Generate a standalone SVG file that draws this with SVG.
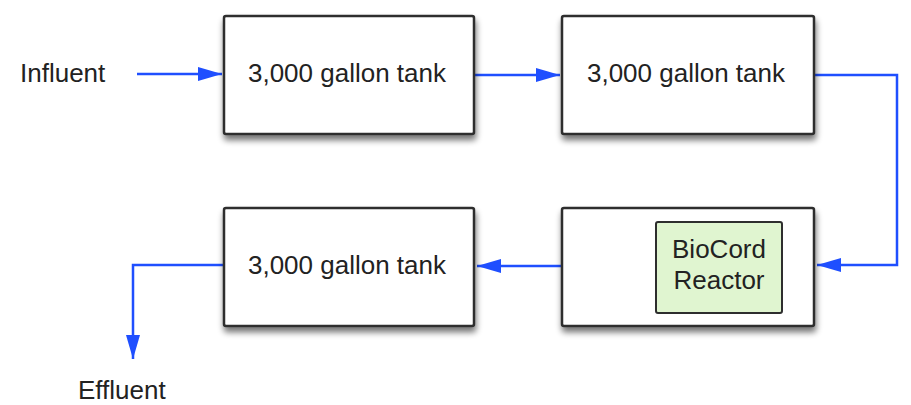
<svg xmlns="http://www.w3.org/2000/svg" width="911" height="405" viewBox="0 0 911 405">
<style>
  .box { fill: #ffffff; stroke: #2e2e2e; stroke-width: 2.5; filter: url(#shadow); }
  .inner { fill: #e0f5d0; stroke: #2e2e2e; stroke-width: 2; }
  .lbl { font-family: "Liberation Sans", Arial, sans-serif; font-size: 26px; fill: #222222; }
  .c { text-anchor: middle; }
  .wire { fill: none; stroke: #1f4fff; stroke-width: 2.5; }
</style>
<defs>
  <filter id="shadow" x="-10%" y="-10%" width="125%" height="135%">
    <feGaussianBlur in="SourceAlpha" stdDeviation="3"/>
    <feOffset dx="1" dy="5" result="b"/>
    <feComponentTransfer><feFuncA type="linear" slope="0.55"/></feComponentTransfer>
    <feMerge><feMergeNode/><feMergeNode in="SourceGraphic"/></feMerge>
  </filter>
  <marker id="arrow" viewBox="0 0 24 14" refX="24" refY="7" markerWidth="24" markerHeight="14" markerUnits="userSpaceOnUse" orient="auto">
    <path d="M0,0 L24,7 L0,14 Z" fill="#1f4fff"/>
  </marker>
</defs>
<rect width="911" height="405" fill="#ffffff"/>
<g id="connectors">
  <path class="wire" d="M137,74 L222,74" marker-end="url(#arrow)"/>
  <path class="wire" d="M475,75 L560,75" marker-end="url(#arrow)"/>
  <path class="wire" d="M814,75 L897,75 L897,265 L817,265" marker-end="url(#arrow)"/>
  <path class="wire" d="M562,266 L477,266" marker-end="url(#arrow)"/>
  <path class="wire" d="M224,265 L133,265 L133,359" marker-end="url(#arrow)"/>
</g>
<g id="influent"><text class="lbl" x="20" y="82">Influent</text></g>
<g id="effluent"><text class="lbl" x="78" y="399">Effluent</text></g>
<g id="tank1">
  <rect class="box" x="224" y="16" width="250" height="118" rx="2"/>
  <text class="lbl c" x="347" y="82">3,000 gallon tank</text>
</g>
<g id="tank2">
  <rect class="box" x="562" y="16" width="252" height="118" rx="2"/>
  <text class="lbl c" x="686" y="82">3,000 gallon tank</text>
</g>
<g id="tank3">
  <rect class="box" x="224" y="208" width="250" height="118" rx="2"/>
  <text class="lbl c" x="347" y="274">3,000 gallon tank</text>
</g>
<g id="reactor-tank">
  <rect class="box" x="562" y="208" width="252" height="118" rx="2"/>
  <g id="biocord">
    <rect class="inner" x="656" y="222" width="126" height="91" rx="2"/>
    <text class="lbl c" x="719" y="258">BioCord</text>
    <text class="lbl c" x="719" y="289">Reactor</text>
  </g>
</g>
</svg>
